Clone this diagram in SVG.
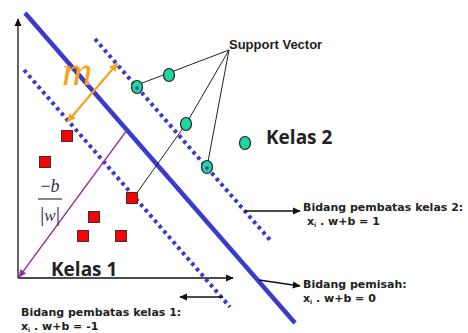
<svg xmlns="http://www.w3.org/2000/svg" width="468" height="333" viewBox="0 0 468 333">
<defs>
<marker id="ah" viewBox="0 0 10 10" refX="9" refY="5" markerWidth="8" markerHeight="8" markerUnits="userSpaceOnUse" orient="auto-start-reverse"><path d="M0,0.5 L10,5 L0,9.5 z" fill="#111"/></marker>
<marker id="ahp" viewBox="0 0 10 10" refX="9" refY="5" markerWidth="8" markerHeight="8" markerUnits="userSpaceOnUse" orient="auto"><path d="M0,0.5 L10,5 L0,9.5 z" fill="#993399"/></marker>
<marker id="aho" viewBox="0 0 10 10" refX="8" refY="5" markerWidth="9" markerHeight="9" markerUnits="userSpaceOnUse" orient="auto-start-reverse"><path d="M0,0.5 L10,5 L0,9.5 z" fill="#f7a21b"/></marker>
<style>
.lbl{font-family:"Open Sans","Liberation Sans",sans-serif;font-weight:700;fill:#222}
.big{font-size:19px}
.sm{font-family:"DejaVu Sans",sans-serif;font-weight:700;font-size:11px;fill:#222}
.sv{font-size:13px;font-family:"Liberation Sans",sans-serif;font-weight:700;fill:#222}
.dot{stroke:#3a3acc;stroke-width:4;stroke-dasharray:3.5 3.6;fill:none}
.sq{fill:#ff0000;stroke:#333;stroke-width:1}
.ci{fill:#1fd6a0;stroke:#222;stroke-width:1.2}
.ln{stroke:#222;stroke-width:1;fill:none}
.ar{stroke:#111;stroke-width:1.3;fill:none}
.math{font-family:"Liberation Serif",serif;font-style:italic}
</style>
</defs>
<rect width="468" height="333" fill="#fff"/>
<g id="axes">
<line x1="18" y1="278" x2="18" y2="19" class="ar" marker-end="url(#ah)"/>
<line x1="18" y1="278" x2="233" y2="278" class="ar" marker-end="url(#ah)"/>
</g>
<g id="planes">
<line id="boundary2" x1="95" y1="39" x2="270" y2="240" class="dot"/>
<line id="boundary1" x1="24" y1="70" x2="230" y2="307" class="dot"/>
<line id="separator" x1="25" y1="13" x2="295" y2="323" stroke="#3a3acc" stroke-width="4.5"/>
</g>
<g id="connectors">
<line x1="229" y1="50" x2="137" y2="85" class="ln"/>
<polyline points="229,50 186,124 134,197" class="ln"/>
<line x1="229" y1="50" x2="207" y2="167" class="ln"/>
<line x1="127" y1="130" x2="19" y2="277" stroke="#993399" stroke-width="1.3" marker-end="url(#ahp)"/>
<line x1="68" y1="121" x2="117" y2="64" stroke="#f7a21b" stroke-width="2.2" marker-start="url(#aho)" marker-end="url(#aho)"/>
<line x1="245" y1="211" x2="300" y2="211" class="ar" marker-end="url(#ah)"/>
<line x1="259" y1="280" x2="300" y2="286" class="ar" marker-end="url(#ah)"/>
<line x1="223" y1="297" x2="180" y2="297" class="ar" marker-end="url(#ah)"/>
</g>
<g id="class1">
<rect x="61.5" y="130.5" width="11" height="11" class="sq"/>
<rect x="39.5" y="156.5" width="11" height="11" class="sq"/>
<rect x="126.5" y="192.5" width="11" height="11" class="sq"/>
<rect x="88.5" y="211.5" width="11" height="11" class="sq"/>
<rect x="77.5" y="230.5" width="11" height="11" class="sq"/>
<rect x="115.5" y="230.5" width="11" height="11" class="sq"/>
</g>
<g id="class2">
<ellipse cx="137" cy="87" rx="5.5" ry="6.5" class="ci"/>
<circle cx="137" cy="88" r="1.8" fill="#3a3acc"/>
<ellipse cx="169" cy="75" rx="5.5" ry="6.5" class="ci"/>
<ellipse cx="186" cy="124" rx="5.5" ry="6.5" class="ci"/>
<ellipse cx="207" cy="167" rx="5.5" ry="6.5" class="ci"/>
<circle cx="207" cy="168" r="1.8" fill="#3a3acc"/>
<ellipse cx="245" cy="143" rx="5.5" ry="6.5" class="ci"/>
</g>
<g id="labels">
<text x="229" y="49" class="sv">Support Vector</text>
<text x="266" y="144" class="lbl big">Kelas 2</text>
<text x="51" y="276" class="lbl big">Kelas 1</text>
<text x="62" y="85" class="math" font-size="42" fill="#f7a21b">m</text>
<text x="50" y="192" class="math" font-size="18" fill="#334" text-anchor="middle"><tspan font-style="normal">−</tspan>b</text>
<line x1="38" y1="199" x2="62" y2="199" stroke="#334" stroke-width="1.2"/>
<text x="50" y="221" class="math" font-size="17" fill="#334" text-anchor="middle"><tspan font-style="normal" font-size="22">|</tspan>w<tspan font-style="normal" font-size="22">|</tspan></text>
<text x="303" y="211" class="sm">Bidang pembatas kelas 2:</text>
<text x="307" y="225" class="sm">x<tspan font-size="6" dy="1.5">i</tspan><tspan dy="-1.5"> . w+b = 1</tspan></text>
<text x="303" y="288" class="sm">Bidang pemisah:</text>
<text x="303" y="302" class="sm">x<tspan font-size="6" dy="1.5">i</tspan><tspan dy="-1.5"> . w+b = 0</tspan></text>
<text x="21" y="316" class="sm">Bidang pembatas kelas 1:</text>
<text x="21" y="330" class="sm">x<tspan font-size="6" dy="1.5">i</tspan><tspan dy="-1.5"> . w+b = -1</tspan></text>
</g>
</svg>
